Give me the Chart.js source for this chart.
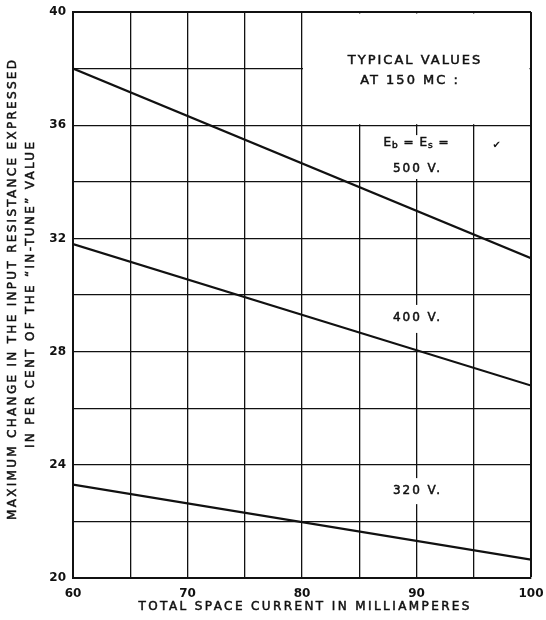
<!DOCTYPE html>
<html>
<head>
<meta charset="utf-8">
<script src="https://cdn.jsdelivr.net/npm/chart.js@4/dist/chart.umd.min.js"></script>
<style>
  html, body { margin: 0; padding: 0; background: #fff; }
  canvas { display: block; }
</style>
</head>
<body>
<canvas id="resistanceChart" width="546" height="620"></canvas>
<script>
// values (straight lines, end points)
const currents = [60, 100];
const change500 = [38.0, 31.3];
const change400 = [31.8, 26.8];
const change320 = [23.3, 20.65];

const xTickLabels = [60, 70, 80, 90, 100];
const yTickLabels = [20, 24, 28, 32, 36, 40];

const FONT = '"DejaVu Sans", sans-serif';

// draw text with letter spacing, centred on cx (slight stroke to look inked)
function spacedText(ctx, text, cx, cy, size, spacing) {
  ctx.font = size + "px " + FONT;
  ctx.letterSpacing = spacing + "px";
  const w = ctx.measureText(text).width - spacing;
  ctx.textAlign = "left";
  ctx.textBaseline = "middle";
  ctx.lineWidth = 0.5;
  ctx.strokeStyle = "#111";
  ctx.fillText(text, cx - w / 2, cy);
  ctx.strokeText(text, cx - w / 2, cy);
  ctx.letterSpacing = "0px";
  return w;
}

const notesPlugin = {
  id: "notes",
  beforeDatasetsDraw(chart) {
    const { ctx, scales } = chart;
    const x = scales.x, y = scales.y;
    ctx.save();

    // white box for the heading
    ctx.fillStyle = "#fff";
    const bx0 = x.getPixelForValue(80) + 1;
    const bx1 = x.getPixelForValue(100) - 1.5;
    const by0 = y.getPixelForValue(40) + 1.5;
    const by1 = y.getPixelForValue(36) - 1;
    ctx.fillRect(bx0, by0, bx1 - bx0, by1 - by0);

    // gaps in the 90 mA gridline behind the voltage labels
    const cx = x.getPixelForValue(90);
    [[35.65, 34.1], [29.65, 28.66], [23.53, 22.61]].forEach(([top, bottom]) => {
      const t = y.getPixelForValue(top), b = y.getPixelForValue(bottom);
      ctx.fillRect(cx - 30, t, 60, b - t);
    });

    ctx.fillStyle = "#111";
    spacedText(ctx, "TYPICAL VALUES", 414, y.getPixelForValue(38.27), 13, 2);
    spacedText(ctx, "AT 150 MC :", 409, y.getPixelForValue(37.56), 13, 2);

    // E_b = E_s =
    const ey = y.getPixelForValue(35.37);
    const parts = [["E", 12, 0], ["b", 9, 3], [" = ", 12, 0], ["E", 12, 0], ["s", 9, 3], [" =", 12, 0]];
    ctx.textAlign = "left";
    ctx.textBaseline = "middle";
    ctx.letterSpacing = "1px";
    ctx.lineWidth = 0.5;
    ctx.strokeStyle = "#111";
    let total = 0;
    parts.forEach(([t, s]) => {
      ctx.font = s + "px " + FONT;
      total += ctx.measureText(t).width;
    });
    let px = cx - total / 2;
    parts.forEach(([t, s, dy]) => {
      ctx.font = s + "px " + FONT;
      ctx.fillText(t, px, ey + dy);
      ctx.strokeText(t, px, ey + dy);
      px += ctx.measureText(t).width;
    });
    ctx.letterSpacing = "0px";

    spacedText(ctx, "500 V.", cx, y.getPixelForValue(34.45), 12, 2);
    spacedText(ctx, "400 V.", cx, y.getPixelForValue(29.19), 12, 2);
    spacedText(ctx, "320 V.", cx, y.getPixelForValue(23.07), 12, 2);

    ctx.font = "10px " + FONT;
    ctx.textAlign = "center";
    ctx.fillText("\u2714", x.getPixelForValue(97), y.getPixelForValue(35.3));
    ctx.restore();
  },
  afterDraw(chart) {
    const { ctx, chartArea } = chart;
    ctx.save();
    ctx.fillStyle = "#111";
    const midY = (chartArea.top + chartArea.bottom) / 2;
    const midX = (chartArea.left + chartArea.right) / 2;
    spacedText(ctx, "TOTAL SPACE CURRENT IN MILLIAMPERES", midX + 2, 607, 12, 2.4);
    ctx.translate(0, midY);
    ctx.rotate(-Math.PI / 2);
    spacedText(ctx, "MAXIMUM CHANGE IN THE INPUT RESISTANCE EXPRESSED", 5, 13, 12, 2.3);
    spacedText(ctx, "IN PER CENT OF THE \u201CIN-TUNE\u201D VALUE", 0, 31, 12, 2.3);
    ctx.restore();
  }
};

function makeLine(data) {
  return {
    data: currents.map((c, i) => ({ x: c, y: data[i] })),
    borderColor: "#111",
    borderWidth: 2.2,
    pointRadius: 0,
    fill: false,
    tension: 0,
  };
}

const ctx = document.getElementById("resistanceChart").getContext("2d");
const resistanceChart = new Chart(ctx, {
  type: "line",
  data: {
    datasets: [makeLine(change500), makeLine(change400), makeLine(change320)],
  },
  options: {
    responsive: false,
    animation: false,
    devicePixelRatio: 1,
    layout: { padding: { top: 12, right: 15, left: 0, bottom: 0 } },
    plugins: { legend: { display: false }, tooltip: { enabled: false } },
    scales: {
      x: {
        type: "linear",
        min: 60,
        max: 100,
        afterFit: (s) => {
          s.height = 42;
          s.paddingLeft = 0;
          s.paddingRight = 0;
        },
        ticks: {
          stepSize: 5,
          autoSkip: false,
          maxRotation: 0,
          padding: 9,
          color: "#111",
          font: { family: FONT, size: 12, weight: "bold" },
          callback: (v) => (xTickLabels.includes(v) ? String(v) : ""),
        },
        grid: {
          color: "#111",
          drawTicks: false,
          lineWidth: (c) => (c.tick && c.tick.value === 100 ? 2 : 1.3),
        },
        border: { display: true, color: "#111", width: 2 },
      },
      y: {
        type: "linear",
        min: 20,
        max: 40,
        afterFit: (s) => {
          s.width = 73;
          s.paddingTop = 0;
          s.paddingBottom = 0;
        },
        ticks: {
          stepSize: 2,
          autoSkip: false,
          padding: 7,
          color: "#111",
          font: { family: FONT, size: 12, weight: "bold" },
          callback: (v) => (yTickLabels.includes(v) ? String(v) : ""),
        },
        grid: {
          color: "#111",
          drawTicks: false,
          lineWidth: (c) => (c.tick && c.tick.value === 40 ? 2 : 1.3),
        },
        border: { display: true, color: "#111", width: 2 },
      },
    },
  },
  plugins: [notesPlugin],
});
</script>
</body>
</html>
